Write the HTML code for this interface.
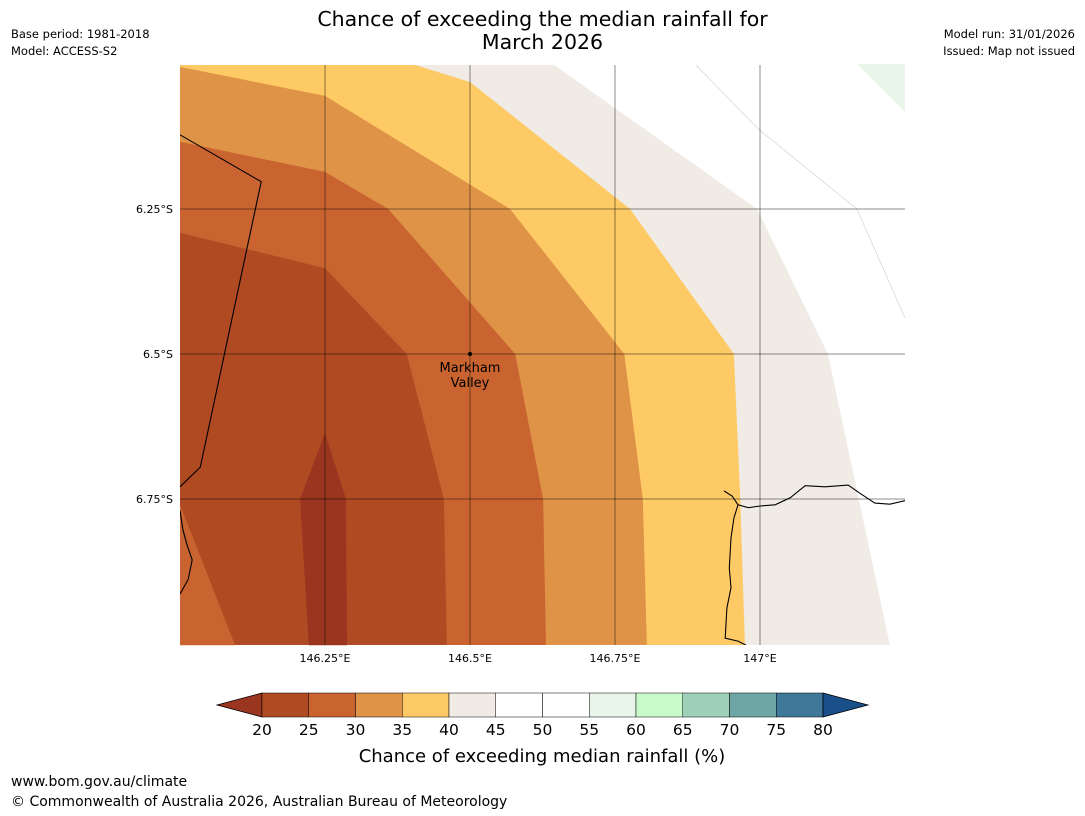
<!DOCTYPE html>
<html><head><meta charset="utf-8"><style>
body{margin:0;width:1085px;height:816px;background:#fff;font-family:"DejaVu Sans","Liberation Sans",sans-serif;overflow:hidden;position:relative}
.t{position:absolute;white-space:nowrap;color:#000}
svg text{font-family:"DejaVu Sans","Liberation Sans",sans-serif}
</style></head><body>
<div class="t" style="left:0;width:1085px;top:8px;text-align:center;font-size:20.5px;line-height:23px">Chance of exceeding the median rainfall for<br>March 2026</div>
<div class="t" style="left:11px;top:26px;font-size:11.5px;line-height:17px">Base period: 1981-2018<br>Model: ACCESS-S2</div>
<div class="t" style="right:10px;top:26px;font-size:11.5px;line-height:17px;text-align:right">Model run: 31/01/2026<br>Issued: Map not issued</div>
<div class="t" style="left:11px;top:774px;font-size:14px">www.bom.gov.au/climate</div>
<div class="t" style="left:11px;top:794px;font-size:14px">© Commonwealth of Australia 2026, Australian Bureau of Meteorology</div>
<svg id="map" width="1085" height="816" style="position:absolute;left:0;top:0"></svg>
<script>
const levels=[20,25,30,35,40,45,50,55,60,65,70,75,80];
const levelColors=["#9a3520","#b04a23","#c96430","#df9347","#fdca66","#f0ebe5","#ffffff","#ffffff","#e8f5e8","#c9fac9","#9dcfb9","#6ea6a6","#3f7898","#1a508a"];
const lonTicks=[146.25,146.5,146.75,147];
const latTicks=[6.25,6.5,6.75];
const edge40=[[146.643,6.0],[146.995,6.25],[147.117,6.5],[147.224,7.002]];
const edge35=[[146.4,6.0],[146.5,6.031],[146.776,6.25],[146.955,6.5],[146.966,6.75],[146.974,7.002]];
const edge30=[[146.0,6.005],[146.25,6.055],[146.569,6.25],[146.766,6.5],[146.798,6.75],[146.805,7.002]];
const edge25=[[146.0,6.134],[146.25,6.186],[146.359,6.25],[146.578,6.5],[146.626,6.75],[146.631,7.002]];
const edge20=[[146.0,6.291],[146.25,6.352],[146.391,6.5],[146.455,6.75],[146.46,7.002]];
const corner25=[[146.0,6.76],[146.095,7.002],[146.0,7.002]];
const core20=[[146.25,6.636],[146.207,6.75],[146.222,7.002],[146.288,7.002],[146.286,6.75]];
const green55=[[147.167,6.0],[147.25,6.083],[147.25,6.0]];
const faint1=[[146.888,6.0],[146.997,6.112],[147.167,6.25],[147.25,6.438]];
const border=[[146.0,6.122],[146.14,6.203],[146.035,6.695],[146.0,6.729]];
const coast=[[146.938,6.736],[146.952,6.745],[146.962,6.76],[146.98,6.765],[147.0,6.762],[147.026,6.76],[147.052,6.748],[147.078,6.727],[147.112,6.729],[147.152,6.726],[147.172,6.74],[147.198,6.757],[147.224,6.759],[147.25,6.753]];
const coast2=[[146.962,6.76],[146.955,6.783],[146.95,6.817],[146.947,6.869],[146.95,6.903],[146.943,6.938],[146.94,6.99],[146.962,6.995],[146.976,7.002]];
const coast3=[[146.0,6.77],[146.005,6.803],[146.012,6.829],[146.021,6.855],[146.014,6.889],[146.0,6.914]];
const X=lon=>325+(lon-146.25)*580, Y=lat=>209+(lat-6.25)*580;
const L=180,R=905,T=65,B=645;
const svg=document.getElementById('map'),NS='http://www.w3.org/2000/svg';
function mk(tag,a){const e=document.createElementNS(NS,tag);for(const k in a)e.setAttribute(k,a[k]);svg.appendChild(e);return e;}
const pts=arr=>arr.map(p=>X(p[0]).toFixed(1)+','+Y(p[1]).toFixed(1)).join(' ');
const cp=document.createElementNS(NS,'clipPath');cp.id='mc';const cr=document.createElementNS(NS,'rect');
cr.setAttribute('x',L);cr.setAttribute('y',T);cr.setAttribute('width',R-L);cr.setAttribute('height',B-T);cp.appendChild(cr);svg.appendChild(cp);
function leftFill(edge,color,name){const p=pts(edge)+` ${L},${B} ${L},${T}`;const e=mk('polygon',{points:p,fill:color,'clip-path':'url(#mc)'});

}
leftFill(edge40,levelColors[5],'band-40-45');
leftFill(edge35,levelColors[4],'band-35-40');
leftFill(edge30,levelColors[3],'band-30-35');
leftFill(edge25,levelColors[2],'band-25-30');
leftFill(edge20,levelColors[1],'band-20-25');
let e=mk('polygon',{points:pts(corner25),fill:levelColors[2]});


e=mk('polygon',{points:pts(core20),fill:levelColors[0]});


e=mk('polygon',{points:pts(green55),fill:levelColors[8]});


e=mk('polyline',{points:pts(faint1),fill:'none',stroke:'#ccc','stroke-width':0.6,'clip-path':'url(#mc)'});


lonTicks.forEach(v=>{const g=mk('line',{x1:X(v),x2:X(v),y1:T,y2:B,stroke:'#000','stroke-opacity':0.45,'stroke-width':1});


const t=mk('text',{x:X(v),y:B+17,'text-anchor':'middle','font-size':11});t.textContent=v+'°E';

});
latTicks.forEach(v=>{const g=mk('line',{x1:L,x2:R,y1:Y(v),y2:Y(v),stroke:'#000','stroke-opacity':0.45,'stroke-width':1});


const t=mk('text',{x:173,y:Y(v)+4,'text-anchor':'end','font-size':11});t.textContent=v+'°S';

});
[border,coast,coast2,coast3].forEach((c,i)=>{const l=mk('polyline',{points:pts(c),fill:'none',stroke:'#000','stroke-width':1.1,'clip-path':'url(#mc)'});

});
const dot=mk('circle',{cx:X(146.5),cy:Y(6.5),r:2,fill:'#000'});


['Markham','Valley'].forEach((s,i)=>{const t=mk('text',{x:X(146.5),y:372+i*15,'text-anchor':'middle','font-size':13});t.textContent=s;

});
const cbL=262,cbR=823,cbT=693,cbB=717,sw=(cbR-cbL)/(levels.length-1);
let t0=mk('polygon',{points:`217,705 ${cbL},${cbT} ${cbL},${cbB}`,fill:levelColors[0],stroke:'#000','stroke-width':0.8});


for(let i=0;i<levels.length-1;i++){const r=mk('rect',{x:cbL+i*sw,y:cbT,width:sw,height:cbB-cbT,fill:levelColors[i+1],stroke:'#000','stroke-width':0.5});

}
t0=mk('polygon',{points:`868,705 ${cbR},${cbT} ${cbR},${cbB}`,fill:levelColors[13],stroke:'#000','stroke-width':0.8});


levels.forEach((v,i)=>{const t=mk('text',{x:cbL+i*sw,y:735,'text-anchor':'middle','font-size':15.5});t.textContent=v;

});
const cap=mk('text',{x:542,y:762,'text-anchor':'middle','font-size':18});cap.textContent='Chance of exceeding median rainfall (%)';


</script>
</body></html>
